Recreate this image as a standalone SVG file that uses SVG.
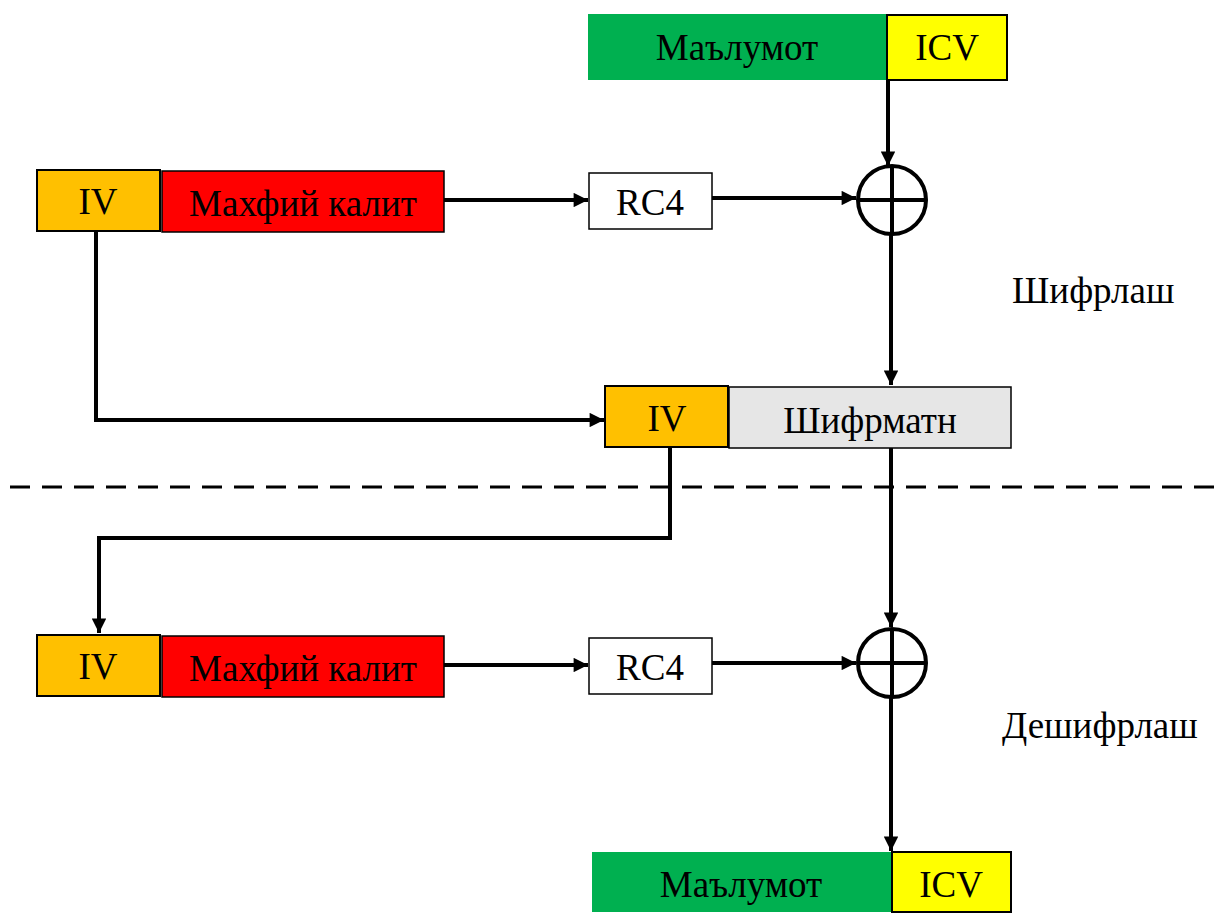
<svg xmlns="http://www.w3.org/2000/svg" width="1215" height="913" viewBox="0 0 1215 913">
<style>
text{font-family:"Liberation Serif","Times New Roman",serif;font-size:37px;fill:#000;text-anchor:middle;dominant-baseline:central}
.lbl{text-anchor:start}
.b{stroke:#000;stroke-width:2}
.w{stroke:#000;stroke-width:1.5}
.c{fill:none;stroke:#000;stroke-width:4}
.cx{fill:none;stroke:#000;stroke-width:4}
</style>
<defs>
<marker id="ah" viewBox="0 0 10 10" refX="10" refY="5" markerWidth="3.8" markerHeight="3.6" markerUnits="strokeWidth" orient="auto">
<path d="M0,0L10,5L0,10z" fill="#000"/>
</marker>
</defs>
<rect width="1215" height="913" fill="#fff"/>
<g id="connectors">
<path class="c" d="M888,80V166" marker-end="url(#ah)"/>
<path class="c" d="M444,200H588" marker-end="url(#ah)"/>
<path class="c" d="M712,198H856" marker-end="url(#ah)"/>
<path class="c" d="M891,235V385" marker-end="url(#ah)"/>
<path class="c" d="M96,231V420H604" marker-end="url(#ah)"/>
<path class="c" d="M670,447V538H99V633" marker-end="url(#ah)"/>
<path class="c" d="M444,665H588" marker-end="url(#ah)"/>
<path class="c" d="M712,663H856" marker-end="url(#ah)"/>
<path class="c" d="M891,448V627" marker-end="url(#ah)"/>
<path class="c" d="M891,698V851" marker-end="url(#ah)"/>
<path d="M10,487H1215" fill="none" stroke="#000" stroke-width="3" stroke-dasharray="20,12"/>
</g>
<g id="data-top">
<rect x="588" y="14" width="299" height="66" fill="#00b050"/>
<text x="737" y="47">Маълумот</text>
</g>
<g id="icv-top">
<rect x="887" y="15" width="120" height="65" fill="#ffff00" class="b"/>
<text x="947" y="47">ICV</text>
</g>
<g id="iv-1">
<rect x="37" y="170" width="123" height="61" fill="#ffc000" class="b"/>
<text x="98" y="201">IV</text>
</g>
<g id="key-1">
<rect x="162" y="171" width="282" height="61" fill="#ff0000" class="w"/>
<text x="303" y="203">Махфий калит</text>
</g>
<g id="rc4-1">
<rect x="589" y="173" width="123" height="56" fill="#fff" class="w"/>
<text x="650" y="202">RC4</text>
</g>
<g id="xor-1">
<circle cx="892" cy="200" r="34" class="cx"/>
<path d="M858,200H926M892,166V234" class="cx"/>
</g>
<g id="label-enc">
<text class="lbl" x="1012" y="290">Шифрлаш</text>
</g>
<g id="iv-mid">
<rect x="605" y="386" width="123" height="61" fill="#ffc000" class="b"/>
<text x="667" y="418">IV</text>
</g>
<g id="cipher">
<rect x="729" y="387" width="282" height="61" fill="#e6e6e6" class="w"/>
<text x="870" y="420">Шифрматн</text>
</g>
<g id="iv-2">
<rect x="37" y="635" width="123" height="61" fill="#ffc000" class="b"/>
<text x="98" y="666">IV</text>
</g>
<g id="key-2">
<rect x="162" y="636" width="282" height="61" fill="#ff0000" class="w"/>
<text x="303" y="668">Махфий калит</text>
</g>
<g id="rc4-2">
<rect x="589" y="638" width="123" height="56" fill="#fff" class="w"/>
<text x="650" y="667">RC4</text>
</g>
<g id="xor-2">
<circle cx="892" cy="663" r="34" class="cx"/>
<path d="M858,663H926M892,629V697" class="cx"/>
</g>
<g id="label-dec">
<text class="lbl" x="1002" y="725">Дешифрлаш</text>
</g>
<g id="data-bottom">
<rect x="592" y="852" width="300" height="60" fill="#00b050"/>
<text x="741" y="884">Маълумот</text>
</g>
<g id="icv-bottom">
<rect x="892" y="852" width="119" height="60" fill="#ffff00" class="b"/>
<text x="951" y="884">ICV</text>
</g>
</svg>
